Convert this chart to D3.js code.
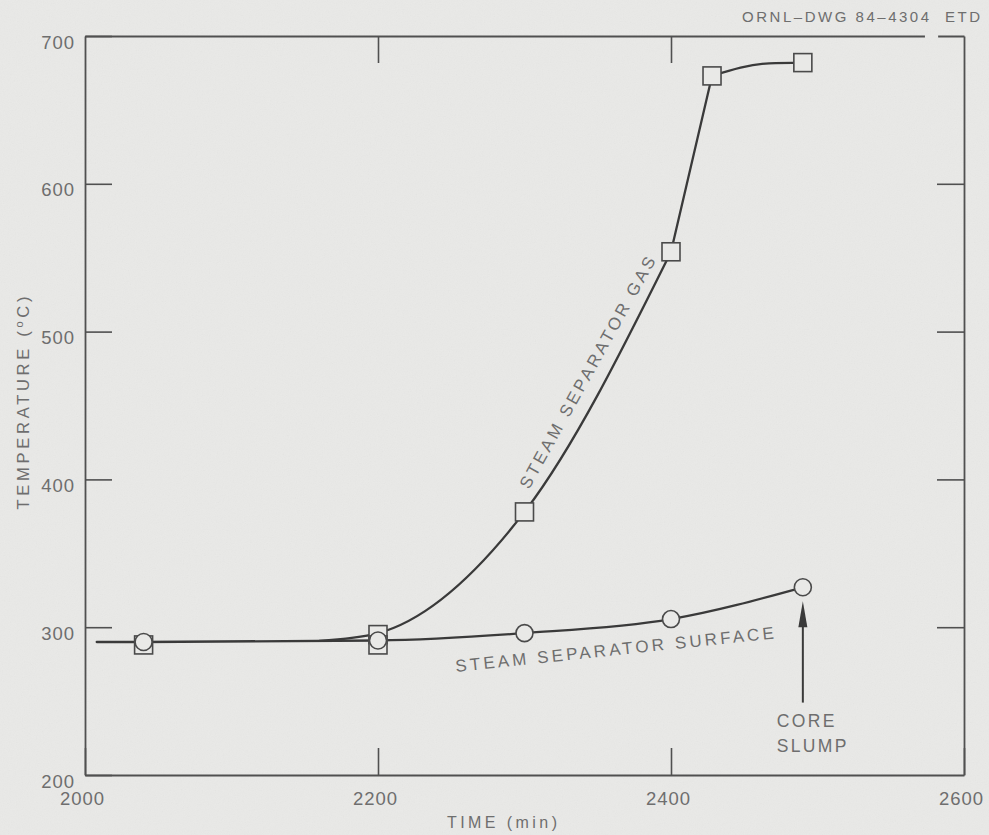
<!DOCTYPE html>
<html>
<head>
<meta charset="utf-8">
<script src="https://cdn.jsdelivr.net/npm/d3@7"></script>
<style>
  html, body { margin: 0; padding: 0; background: #e9e9e7; }
  svg { display: block; font-family: "Liberation Sans", Arial, Helvetica, sans-serif; }
</style>
</head>
<body>
<svg id="chart" width="989" height="835"></svg>
<script>
// Axis ticks
const timeTicks = [2000, 2200, 2400, 2600];
const tempTicks = [200, 300, 400, 500, 600, 700];

// Steam separator surface readings (circles)
const surfaceTime = [2040, 2200, 2300, 2400, 2490];
const surfaceTemp = [290, 291, 296, 305.5, 327];

// Steam separator gas readings (squares)
const gasTime = [2040, 2200, 2200, 2300, 2400, 2428, 2490];
const gasTemp = [288, 295, 288, 378, 554, 673, 682];

// Faired curve through the surface readings
const surfaceCurveTime = [2008, 2040, 2200, 2300, 2400, 2490];
const surfaceCurveTemp = [290, 290, 291, 296, 305.5, 327];

// Faired gas curve, drawn in three strokes: the rise, the steep run, the plateau
const gasRiseTime = [2160, 2200, 2300, 2400];
const gasRiseTemp = [290.7, 296, 378, 554];
const gasSteepTime = [2400, 2428];
const gasSteepTemp = [554, 673];
const gasTopTime = [2428, 2467, 2490];
const gasTopTemp = [673, 681.5, 682];

// Core slump event marker
const coreSlumpTime = 2490;
const coreSlumpTemp = 327;
const arrowTailTemp = 249;

const INK = "#3a3a3a";
const FRAME = "#505050";
const TEXT = "#6e6e6e";
const BG = "#e9e9e7";

const svg = d3.select("#chart");

// light paper grain
const defs = svg.append("defs");
const grain = defs.append("filter").attr("id", "grain").attr("x", 0).attr("y", 0).attr("width", 1).attr("height", 1);
grain.append("feTurbulence").attr("type", "fractalNoise").attr("baseFrequency", 0.85).attr("numOctaves", 2).attr("seed", 7);
grain.append("feColorMatrix").attr("type", "saturate").attr("values", 0);
svg.append("rect").attr("width", 989).attr("height", 835).attr("fill", BG);
svg.append("rect").attr("width", 989).attr("height", 835).attr("filter", "url(#grain)").attr("opacity", 0.06);

const x = d3.scaleLinear().domain([2000, 2600]).range([85, 964]);
const y = d3.scaleLinear().domain([200, 700]).range([775, 36]);

const TICK = 27;

function styleAxis(g) {
  g.select(".domain").attr("stroke", FRAME).attr("stroke-width", 1.8);
  g.selectAll(".tick line").attr("stroke", FRAME).attr("stroke-width", 1.6);
  g.selectAll(".tick text")
    .attr("fill", TEXT)
    .style("font-size", "18.5px")
    .style("letter-spacing", "1px");
}

// left axis with labels
const gLeft = svg.append("g").attr("transform", `translate(${x(2000)},0)`)
  .call(d3.axisLeft(y).tickValues(tempTicks).tickSizeInner(-TICK).tickSizeOuter(0).tickPadding(10).tickFormat(d3.format("d")));
styleAxis(gLeft);
gLeft.selectAll(".tick text").attr("dy", 12);

// bottom axis with labels
const gBottom = svg.append("g").attr("transform", `translate(0,${y(200)})`)
  .call(d3.axisBottom(x).tickValues(timeTicks).tickSizeInner(-TICK).tickSizeOuter(0).tickPadding(0).tickFormat(d3.format("d")));
styleAxis(gBottom);
gBottom.selectAll(".tick text").attr("y", 30).attr("dy", 0).attr("dx", -3);

// right axis, ticks only
const gRight = svg.append("g").attr("transform", `translate(${x(2600)},0)`)
  .call(d3.axisRight(y).tickValues([300, 400, 500, 600]).tickSizeInner(-TICK).tickSizeOuter(0).tickFormat(""));
styleAxis(gRight);

// top axis, ticks only; the top rule has a short break near the right corner
const gTop = svg.append("g").attr("transform", `translate(0,${y(700)})`)
  .call(d3.axisTop(x).tickValues([2200, 2400]).tickSizeInner(-TICK).tickSizeOuter(0).tickFormat(""));
styleAxis(gTop);
const gapA = x(2573), gapB = x(2582);
gTop.select(".domain").attr("stroke-dasharray", `${gapA - x(2000)},${gapB - gapA},${x(2600) - gapB + 4}`);

// curves
const smooth = d3.line().x(d => x(d[0])).y(d => y(d[1])).curve(d3.curveMonotoneX);
const straight = d3.line().x(d => x(d[0])).y(d => y(d[1]));

function stroke(data, gen) {
  svg.append("path").datum(data).attr("d", gen)
    .attr("fill", "none").attr("stroke", INK).attr("stroke-width", 2.3)
    .attr("stroke-linejoin", "round").attr("stroke-linecap", "round");
}
stroke(d3.zip(surfaceCurveTime, surfaceCurveTemp), smooth);
stroke(d3.zip(gasRiseTime, gasRiseTemp), smooth);
stroke(d3.zip(gasSteepTime, gasSteepTemp), straight);
stroke(d3.zip(gasTopTime, gasTopTemp), smooth);

// gas markers (open squares)
const SQ = 18;
svg.append("g").selectAll("rect")
  .data(d3.zip(gasTime, gasTemp))
  .join("rect")
  .attr("x", d => x(d[0]) - SQ / 2)
  .attr("y", d => y(d[1]) - SQ / 2)
  .attr("width", SQ).attr("height", SQ)
  .attr("fill", BG).attr("stroke", "#4a4a4a").attr("stroke-width", 1.6);

// surface markers (open circles)
svg.append("g").selectAll("circle")
  .data(d3.zip(surfaceTime, surfaceTemp))
  .join("circle")
  .attr("cx", d => x(d[0]))
  .attr("cy", d => y(d[1]))
  .attr("r", 8.5)
  .attr("fill", BG).attr("stroke", "#4a4a4a").attr("stroke-width", 1.6);

// core slump arrow
const ax = x(coreSlumpTime);
const tipY = y(coreSlumpTemp) + 14;
const tailY = y(arrowTailTemp);
svg.append("line")
  .attr("x1", ax).attr("x2", ax).attr("y1", tailY).attr("y2", tipY + 20)
  .attr("stroke", INK).attr("stroke-width", 2);
svg.append("path")
  .attr("d", `M${ax},${tipY} L${ax - 4.5},${tipY + 26} L${ax + 4.5},${tipY + 26} Z`)
  .attr("fill", INK);

const note = svg.append("text")
  .attr("fill", TEXT).style("font-size", "17.5px").style("letter-spacing", "2.3px");
note.append("tspan").attr("x", ax - 26).attr("y", tailY + 24).text("CORE");
note.append("tspan").attr("x", ax - 26).attr("y", tailY + 49).text("SLUMP");

// series labels
svg.append("text")
  .attr("transform", "translate(529,490) rotate(-61)")
  .attr("fill", TEXT).style("font-size", "17px")
  .attr("textLength", 262).attr("lengthAdjust", "spacing")
  .text("STEAM SEPARATOR GAS");

svg.append("text")
  .attr("transform", "translate(456,672) rotate(-6)")
  .attr("fill", TEXT).style("font-size", "17px")
  .attr("textLength", 320).attr("lengthAdjust", "spacing")
  .text("STEAM SEPARATOR SURFACE");

// axis titles
const yTitle = svg.append("text")
  .attr("transform", "translate(29,403) rotate(-90)")
  .attr("text-anchor", "middle")
  .attr("fill", TEXT).style("font-size", "16.5px")
  .attr("textLength", 213).attr("lengthAdjust", "spacing");
yTitle.append("tspan").text("TEMPERATURE (");
yTitle.append("tspan").attr("dy", -6).style("font-size", "11px").text("o");
yTitle.append("tspan").attr("dy", 6).text("C)");

svg.append("text")
  .attr("x", 502).attr("y", 828)
  .attr("text-anchor", "middle")
  .attr("fill", TEXT).style("font-size", "16px")
  .attr("textLength", 110).attr("lengthAdjust", "spacing")
  .text("TIME (min)");

// drawing number
svg.append("text")
  .attr("x", 742).attr("y", 22)
  .attr("fill", TEXT).style("font-size", "15px")
  .attr("xml:space", "preserve")
  .attr("textLength", 238).attr("lengthAdjust", "spacing")
  .text("ORNL\u2013DWG 84\u20134304  ETD");
</script>
</body>
</html>
